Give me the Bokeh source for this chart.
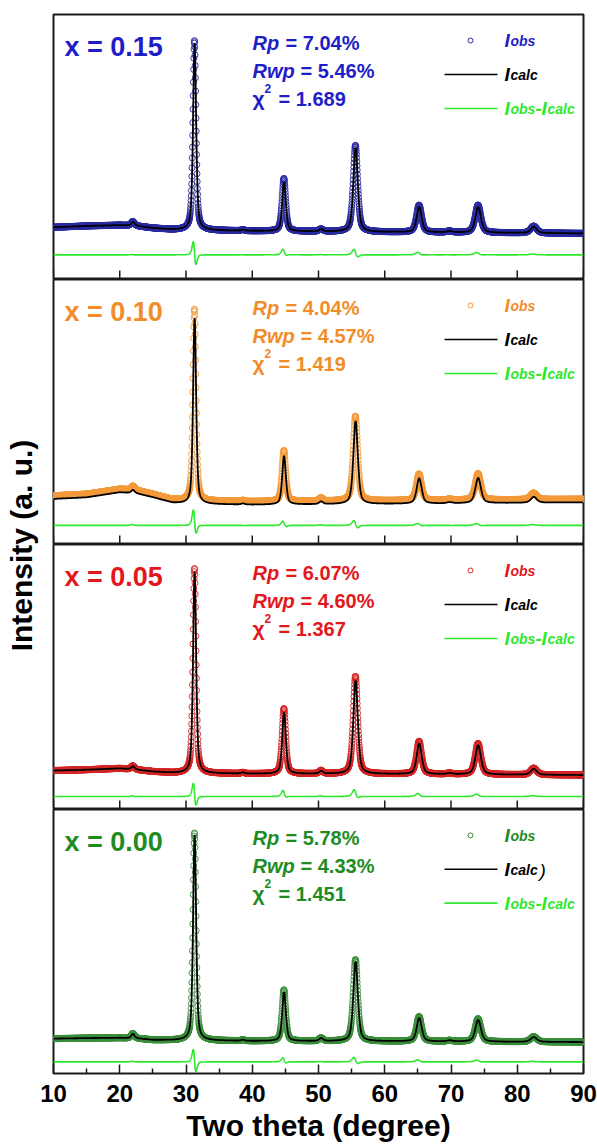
import numpy as np
from bokeh.plotting import figure
from bokeh.layouts import column, row
from bokeh.models import Range1d, FixedTicker, Label
from bokeh.core.properties import value
from bokeh.embed import file_html
from bokeh.resources import INLINE

FONT = "Liberation Sans"

# ---------------- data ----------------
X_START, X_END = 10, 90
X_TICKS = [10, 20, 30, 40, 50, 60, 70, 80, 90]
X_MINOR_TICKS = [15, 25, 35, 45, 55, 65, 75, 85]
X_TITLE = "Two theta (degree)"
Y_TITLE = "Intensity (a. u.)"
STEP = 0.03  # 2-theta sampling step of the scan

PEAK_POS = [22.0, 31.3, 38.6, 44.8, 50.4, 55.6, 65.2, 69.8, 74.1, 82.5]
PEAK_FWHM = [0.60, 0.55, 0.60, 0.65, 0.70, 0.80, 0.90, 0.95, 1.00, 1.10]

SAMPLE_LABELS = ["x = 0.15", "x = 0.10", "x = 0.05", "x = 0.00"]
RP_VALUES = ["7.04%", "4.04%", "6.07%", "5.78%"]
RWP_VALUES = ["5.46%", "4.57%", "4.60%", "4.33%"]
CHI2_VALUES = ["1.689", "1.419", "1.367", "1.451"]
CALC_SUFFIX = ["", "", "", ")"]

# peak heights above background (fraction of panel height)
H_CALC_015 = [0.015, 0.705, 0.004, 0.184, 0.008, 0.316, 0.095, 0.005, 0.097, 0.023]
H_OBS_015 = [0.016, 0.715, 0.004, 0.199, 0.009, 0.326, 0.102, 0.005, 0.104, 0.026]
H_CALC_010 = [0.012, 0.702, 0.004, 0.183, 0.010, 0.313, 0.095, 0.004, 0.095, 0.022]
H_OBS_010 = [0.015, 0.724, 0.004, 0.192, 0.012, 0.320, 0.100, 0.004, 0.100, 0.025]
H_CALC_005 = [0.012, 0.760, 0.004, 0.230, 0.010, 0.352, 0.115, 0.004, 0.110, 0.022]
H_OBS_005 = [0.014, 0.773, 0.004, 0.246, 0.012, 0.368, 0.124, 0.004, 0.117, 0.025]
H_CALC_000 = [0.016, 0.778, 0.004, 0.185, 0.011, 0.301, 0.088, 0.004, 0.082, 0.018]
H_OBS_000 = [0.018, 0.786, 0.004, 0.194, 0.012, 0.309, 0.094, 0.004, 0.087, 0.020]

# background level (fraction of panel height) at these 2-theta anchors
BG_X = [10, 15, 20, 22.5, 25, 28, 30, 40, 60, 90]
BG_015 = [0.197, 0.202, 0.205, 0.202, 0.194, 0.188, 0.187, 0.183, 0.179, 0.174]
BG_010 = [0.172, 0.178, 0.197, 0.193, 0.178, 0.157, 0.153, 0.150, 0.153, 0.159]
BG_005 = [0.147, 0.150, 0.155, 0.150, 0.143, 0.138, 0.137, 0.135, 0.134, 0.130]
BG_000 = [0.132, 0.134, 0.135, 0.133, 0.127, 0.126, 0.126, 0.123, 0.122, 0.119]

OBS_BG_SHIFT = [0.0, 0.012, 0.0, 0.0]
OBS_PEAK_SHIFT = [-0.025, -0.025, -0.022, -0.022]
DIFF_BASE = [0.093, 0.060, 0.049, 0.044]

H_CALC = [H_CALC_015, H_CALC_010, H_CALC_005, H_CALC_000]
H_OBS = [H_OBS_015, H_OBS_010, H_OBS_005, H_OBS_000]
BG = [BG_015, BG_010, BG_005, BG_000]

# ---------------- style ----------------
TEXT_COLORS = ["#1e1ec8", "#f28c28", "#e3171c", "#1e8c23"]
OBS_COLORS = ["#2828a0", "#f39a3a", "#d42424", "#3a8d3a"]
DIFF_COLOR = "#2de82d"
AXIS_COLOR = "#1a1a1a"

PANEL_H = 265
TOP_BORDER = 14
BOTTOM_BORDER = 70
FRAME_W = 530
BL, BR = 14, 14
FIG_W = BL + FRAME_W + BR
LABEL_W = 39
TOTAL_H = PANEL_H * 4 + TOP_BORDER + BOTTOM_BORDER
TEXT_SHIFT = 7  # px correction for label baseline placement


def deg(px):
    # page x pixel -> 2-theta
    return X_START + (px - (LABEL_W + BL)) / (FRAME_W / (X_END - X_START))


def profile(x, pos, fwhm, eta=0.5):
    d = (x - pos) / fwhm
    return eta / (1 + 4 * d * d) + (1 - eta) * np.exp(-4 * np.log(2) * d * d)


two_theta = np.arange(X_START, X_END + 1e-9, STEP)
xr = Range1d(X_START, X_END)


def add_label(p, x, top_off, text, size, color, style="bold", x_off=0):
    p.add_layout(Label(x=x, y=1.0, x_units="data", y_units="data",
                       text=text, text_font=FONT, text_font_size=f"{size}px",
                       text_font_style=style, text_color=color,
                       text_align="left", text_baseline="alphabetic",
                       x_offset=x_off, y_offset=-(top_off - TEXT_SHIFT)))


def make_panel(i):
    is_top = i == 0
    is_bottom = i == 3
    h = PANEL_H + (TOP_BORDER if is_top else 0) + (BOTTOM_BORDER if is_bottom else 0)
    p = figure(width=FIG_W, height=h, x_range=xr, y_range=Range1d(0, 1),
               toolbar_location=None, output_backend="svg",
               y_axis_location=None,
               x_axis_location="below" if is_bottom else None,
               min_border_left=BL, min_border_right=BR,
               min_border_top=TOP_BORDER if is_top else 0,
               min_border_bottom=BOTTOM_BORDER if is_bottom else 0)
    p.grid.visible = False
    p.outline_line_color = AXIS_COLOR
    p.outline_line_width = 2
    p.background_fill_color = "white"
    p.border_fill_color = "white"

    if is_bottom:
        ax = p.xaxis[0]
        ax.ticker = FixedTicker(ticks=X_TICKS, minor_ticks=X_MINOR_TICKS)
        ax.major_tick_in = 9
        ax.major_tick_out = 0
        ax.minor_tick_in = 5
        ax.minor_tick_out = 0
        ax.major_tick_line_width = 1.5
        ax.minor_tick_line_width = 1.5
        ax.major_tick_line_color = AXIS_COLOR
        ax.minor_tick_line_color = AXIS_COLOR
        ax.axis_line_color = None
        ax.major_label_text_font = FONT
        ax.major_label_text_font_style = "bold"
        ax.major_label_text_font_size = "24px"
        ax.major_label_text_color = "black"
        ax.major_label_standoff = 11
        ax.axis_label = X_TITLE
        ax.axis_label_text_font = FONT
        ax.axis_label_text_font_style = "bold"
        ax.axis_label_text_font_size = "30px"
        ax.axis_label_text_color = "black"
        ax.axis_label_standoff = 4
    else:
        # inward tick marks at the shared 2-theta ticks (no labels)
        p.segment(x0=X_TICKS, y0=[0] * len(X_TICKS), x1=X_TICKS,
                  y1=[9 / PANEL_H] * len(X_TICKS),
                  line_color=AXIS_COLOR, line_width=1.5)

    bg = np.interp(two_theta, BG_X, BG[i])
    calc = bg.copy()
    obs = bg + OBS_BG_SHIFT[i]
    for pos, w, hc, ho in zip(PEAK_POS, PEAK_FWHM, H_CALC[i], H_OBS[i]):
        calc = calc + hc * profile(two_theta, pos, w)
        obs = obs + ho * profile(two_theta, pos + OBS_PEAK_SHIFT[i], w)
    diff = DIFF_BASE[i] + (obs - calc)

    p.scatter(two_theta, obs, marker="circle", size=6, fill_color=None,
              line_color=OBS_COLORS[i], line_width=0.9)
    p.line(two_theta, calc, line_color="black", line_width=1.8)
    p.line(two_theta, diff, line_color=DIFF_COLOR, line_width=1.6)

    tc = TEXT_COLORS[i]
    # sample label
    add_label(p, deg(64), 39, SAMPLE_LABELS[i], 27, tc)
    # agreement factors
    sx = deg(252)
    add_label(p, sx, 35, "Rp", 20, tc, "bold italic")
    add_label(p, sx, 35, "= " + RP_VALUES[i], 20, tc, "bold", 33)
    add_label(p, sx, 63, "Rwp", 20, tc, "bold italic")
    add_label(p, sx, 63, "= " + RWP_VALUES[i], 20, tc, "bold", 48)
    add_label(p, sx, 91, "\u03c7", 21, tc, "bold")
    add_label(p, sx, 81, "2", 12, tc, "bold", 12)
    add_label(p, sx, 91, "= " + CHI2_VALUES[i], 20, tc, "bold", 26)

    # legend
    lx = deg(504)
    p.scatter([deg(470)], [1 - 26 / PANEL_H], marker="circle", size=5,
              fill_color=None, line_color=OBS_COLORS[i], line_width=1)
    p.segment([deg(444)], [1 - 60 / PANEL_H], [deg(497)], [1 - 60 / PANEL_H],
              line_color="black", line_width=1.6)
    p.segment([deg(444)], [1 - 94 / PANEL_H], [deg(497)], [1 - 94 / PANEL_H],
              line_color=DIFF_COLOR, line_width=1.6)
    add_label(p, lx, 33, "I", 19, tc, "bold italic")
    add_label(p, lx, 33, "obs", 14, tc, "bold italic", 6)
    add_label(p, lx, 67, "I", 19, "black", "bold italic")
    add_label(p, lx, 67, "calc", 14, "black", "bold italic", 6)
    if CALC_SUFFIX[i]:
        add_label(p, lx, 68, CALC_SUFFIX[i], 19, "black", "italic", 35)
    add_label(p, lx, 101, "I", 19, DIFF_COLOR, "bold italic")
    add_label(p, lx, 101, "obs", 14, DIFF_COLOR, "bold italic", 6)
    add_label(p, lx, 101, "-", 19, DIFF_COLOR, "bold", 31)
    add_label(p, lx, 101, "I", 19, DIFF_COLOR, "bold italic", 37)
    add_label(p, lx, 101, "calc", 14, DIFF_COLOR, "bold italic", 43)
    return p


panels = [make_panel(i) for i in range(4)]

lp = figure(width=LABEL_W, height=TOTAL_H, x_range=Range1d(0, LABEL_W),
            y_range=Range1d(0, TOTAL_H), toolbar_location=None,
            output_backend="svg", min_border=0, x_axis_location=None,
            y_axis_location=None)
lp.outline_line_color = None
lp.grid.visible = False
lp.text(x=[21], y=[TOTAL_H - 545], text=[Y_TITLE], angle=np.pi / 2,
        text_font=value(FONT), text_font_style="bold", text_font_size="30px",
        text_align="center", text_baseline="middle", text_color="black")

layout = row(lp, column(*panels, spacing=0), spacing=0)
open("out.html", "w").write(file_html(layout, INLINE))
